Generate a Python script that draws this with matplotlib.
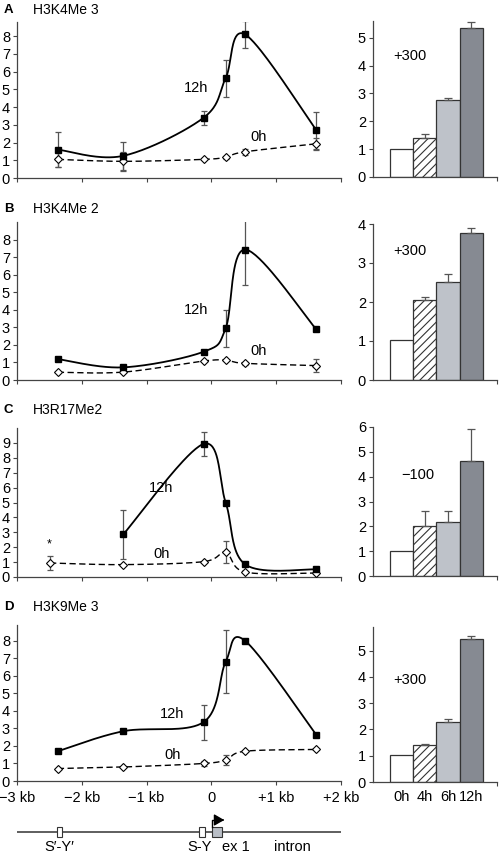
import numpy as np
import matplotlib
matplotlib.use("Agg")
import matplotlib.pyplot as plt
from matplotlib.patches import Rectangle

plt.rcParams["font.family"] = ["Liberation Sans", "DejaVu Sans"]
plt.rcParams["hatch.linewidth"] = 0.8

# ---- data ----
POS = [-2.37, -1.36, -0.12, 0.22, 0.52, 1.62]
POS_C12 = [-1.36, -0.12, 0.22, 0.52, 1.62]
POS_C0 = [-2.49, -1.36, -0.12, 0.22, 0.52, 1.62]

a_12h = [1.6, 1.25, 3.4, 5.63, 8.1, 2.7]
a_12h_err = [1.0, 0.78, 0.4, 1.05, 0.77, 1.05]
a_0h = [1.05, 0.94, 1.05, 1.18, 1.48, 1.93]
a_0h_err = [0.45, 0.55, 0.0, 0.08, 0.17, 0.35]

b_12h = [1.19, 0.72, 1.61, 2.94, 7.43, 2.88]
b_12h_err = [0.0, 0.0, 0.0, 1.07, 2.0, 0.0]
b_0h = [0.44, 0.45, 1.08, 1.12, 0.95, 0.82]
b_0h_err = [0.0, 0.0, 0.0, 0.0, 0.1, 0.35]

c_12h = [2.86, 8.93, 5.0, 0.85, 0.51]
c_12h_err = [1.65, 0.8, 0.0, 0.0, 0.0]
c_0h = [0.94, 0.83, 1.03, 1.65, 0.33, 0.27]
c_0h_err = [0.47, 0.0, 0.0, 0.74, 0.0, 0.0]

d_12h = [1.7, 2.84, 3.36, 6.8, 8.0, 2.63]
d_12h_err = [0.0, 0.0, 1.0, 1.8, 0.0, 0.0]
d_0h = [0.71, 0.8, 1.0, 1.21, 1.7, 1.8]
d_0h_err = [0.0, 0.0, 0.15, 0.3, 0.0, 0.0]

bar_labels = ["0h", "4h", "6h", "12h"]
a_bars = [1.0, 1.41, 2.76, 5.34]
a_bars_err = [0.0, 0.12, 0.06, 0.24]
b_bars = [1.03, 2.06, 2.5, 3.77]
b_bars_err = [0.0, 0.06, 0.22, 0.13]
c_bars = [1.0, 2.0, 2.16, 4.62]
c_bars_err = [0.0, 0.61, 0.45, 1.28]
d_bars = [1.04, 1.39, 2.3, 5.44]
d_bars_err = [0.0, 0.06, 0.09, 0.13]

kb_ticks = [-3, -2, -1, 0, 1, 2]
kb_labels = ["\u22123 kb", "\u22122 kb", "\u22121 kb", "0", "+1 kb", "+2 kb"]

# gene map features (kb)
gene_boxes = [(-2.38, -2.30, "white"), (-0.19, -0.10, "white"), (0.01, 0.165, "#b9bec6")]
gene_names = [("S\u2032-Y\u2032", -2.34), ("S-Y", -0.18), ("ex 1", 0.38), ("intron", 1.25)]

W, H = 500, 855
BAR_COLORS = ["white", "white", "#bec2c9", "#868a92"]
BAR_HATCH = [None, "////", None, None]
SPINE = "#444444"


def px_axes(fig, x0, x1, top, bot):
    return fig.add_axes([x0 / W, 1 - bot / H, (x1 - x0) / W, (bot - top) / H])


def smooth(xs, ys, sx, sy, n=40):
    p = np.column_stack([np.asarray(xs) * sx, np.asarray(ys) * sy])
    pad = np.vstack([p[0], p, p[-1]])
    t = np.linspace(0, 1, n)[:, None]
    segs = []
    for i in range(len(p) - 1):
        p0, p1, p2, p3 = pad[i], pad[i + 1], pad[i + 2], pad[i + 3]
        c1 = p1 + (p2 - p0) / 6
        c2 = p2 - (p3 - p1) / 6
        segs.append((1 - t) ** 3 * p1 + 3 * (1 - t) ** 2 * t * c1
                    + 3 * (1 - t) * t ** 2 * c2 + t ** 3 * p2)
    q = np.vstack(segs)
    return q[:, 0] / sx, q[:, 1] / sy


def style_axes(ax):
    for s in ["top", "right"]:
        ax.spines[s].set_visible(False)
    for s in ["left", "bottom"]:
        ax.spines[s].set_color(SPINE)
        ax.spines[s].set_linewidth(0.9)
    ax.tick_params(colors=SPINE, labelcolor="black", labelsize=10.5,
                   length=3, width=0.8, pad=2)


def line_panel(ax, ymax, x12, y12, e12, x0, y0, e0, lab12, lab0):
    style_axes(ax)
    ax.set_xlim(-3, 2)
    ax.set_ylim(0, ymax)
    ax.set_yticks(range(0, int(np.ceil(ymax))))
    ax.set_xticks(kb_ticks)
    ax.set_xticklabels([])
    sx, sy = 324 / 5.0, 156 / ymax
    cx, cy = smooth(x0, y0, sx, sy)
    ax.plot(cx, cy, color="black", lw=1.0, dashes=(4.5, 2.5), zorder=3)
    ax.errorbar(x0, y0, yerr=e0, fmt="none", ecolor="#555555",
                elinewidth=0.9, capsize=2.5, capthick=0.9, zorder=2)
    ax.plot(x0, y0, "D", ms=3.7, mfc="white", mec="black", mew=0.8,
            ls="none", zorder=4)
    cx, cy = smooth(x12, y12, sx, sy)
    ax.plot(cx, cy, color="black", lw=1.3, zorder=3)
    ax.errorbar(x12, y12, yerr=e12, fmt="none", ecolor="#555555",
                elinewidth=0.9, capsize=2.5, capthick=0.9, zorder=2)
    ax.plot(x12, y12, "s", ms=4.2, color="black", ls="none", zorder=4)
    ax.text(lab12[0], lab12[1], "12h", fontsize=10.5, ha="center", va="center")
    ax.text(lab0[0], lab0[1], "0h", fontsize=10.5, ha="center", va="center")


def bar_panel(ax, ymax, vals, errs, label, lab_pos, show_x):
    style_axes(ax)
    xs = np.arange(len(vals))
    for x, v, e, c, h in zip(xs, vals, errs, BAR_COLORS, BAR_HATCH):
        ax.bar(x, v, width=1.0, color=c, edgecolor="#333333", linewidth=0.9,
               hatch=h, zorder=2)
        if e > 0:
            ax.errorbar(x, v, yerr=[[0], [e]], fmt="none", ecolor="#555555",
                        elinewidth=0.9, capsize=3, capthick=0.9, zorder=3)
    ax.set_xlim(-1.22, 4.1)
    ax.set_ylim(0, ymax)
    ax.set_yticks(range(0, int(ymax + 0.01) + 1))
    ax.set_xticks([4.1])
    ax.set_xticklabels([])
    if show_x:
        ax.set_xticks(xs, minor=True)
        ax.set_xticklabels(bar_labels, minor=True)
        ax.tick_params(axis="x", which="minor", length=0, pad=6, labelsize=10.5)
    ax.text(lab_pos[0], lab_pos[1], label, fontsize=10.5, ha="center", va="center")


fig = plt.figure(figsize=(W / 100, H / 100), dpi=100)

panels = [
    ("A", "H3K4Me 3", (22, 178), 8.8, (POS, a_12h, a_12h_err, POS, a_0h, a_0h_err),
     ((-0.23, 5.1), (0.73, 2.3)), (21, 177), 5.6, a_bars, a_bars_err, "+300", (0.37, 4.34), 10),
    ("B", "H3K4Me 2", (222, 380), 9.0, (POS, b_12h, b_12h_err, POS, b_0h, b_0h_err),
     ((-0.23, 3.98), (0.73, 1.65)), (224, 380), 4.0, b_bars, b_bars_err, "+300", (0.37, 3.3), 209),
    ("C", "H3R17Me2", (428, 577), 10.0, (POS_C12, c_12h, c_12h_err, POS_C0, c_0h, c_0h_err),
     ((-0.77, 6.0), (-0.77, 1.56)), (427, 576), 6.0, c_bars, c_bars_err, "\u2212100", (0.71, 4.08), 410),
    ("D", "H3K9Me 3", (625, 781), 8.9, (POS, d_12h, d_12h_err, POS, d_0h, d_0h_err),
     ((-0.6, 3.8), (-0.6, 1.5)), (627, 782), 5.9, d_bars, d_bars_err, "+300", (0.37, 3.9), 607),
]

for (letter, title, (lt, lb), lmax, series, labs, (rt, rb), rmax,
     bars, berrs, btxt, bpos, ty) in panels:
    axl = px_axes(fig, 17, 341, lt, lb)
    line_panel(axl, lmax, *series, labs[0], labs[1])
    axr = px_axes(fig, 373, 497, rt, rb)
    bar_panel(axr, rmax, bars, berrs, btxt, bpos, letter == "D")
    fig.text(4 / W, 1 - ty / H, letter, fontsize=9.5, fontweight="bold",
             ha="left", va="center")
    fig.text(33 / W, 1 - ty / H, title, fontsize=10, ha="left", va="center")
    if letter == "C":
        axl.text(-2.5, 2.2, "*", fontsize=9, ha="center", va="center")
    if letter == "D":
        axl.set_xticklabels(kb_labels)
        axl.tick_params(axis="x", pad=4)

# gene map
axg = px_axes(fig, 17, 341, 810, 855)
axg.set_xlim(-3, 2)
axg.set_ylim(0, 45)
axg.axis("off")
axg.plot([-3, 2.0], [23, 23], color="#333333", lw=1.1, zorder=1)
for x0, x1, c in gene_boxes:
    axg.add_patch(Rectangle((x0, 18), x1 - x0, 10, facecolor=c,
                            edgecolor="#333333", lw=0.8, zorder=2))
axg.plot([0.01, 0.01, 0.15], [28, 35, 35], color="black", lw=1.0)
axg.annotate("", xy=(0.24, 35), xytext=(0.12, 35),
             arrowprops=dict(arrowstyle="-|>,head_length=0.6,head_width=0.35",
                             color="black", lw=1.0))
for name, x in gene_names:
    axg.text(x, 8, name, fontsize=10.5, ha="center", va="center")

fig.savefig("out.png", dpi=100)
